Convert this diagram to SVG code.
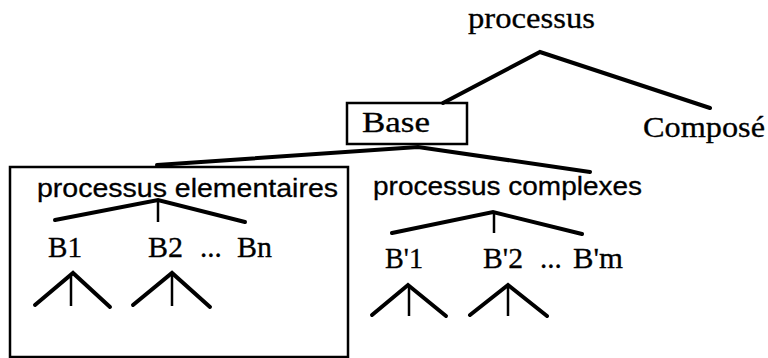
<svg xmlns="http://www.w3.org/2000/svg" width="768" height="358" viewBox="0 0 768 358">
<style>
.serif{font-family:"Liberation Serif","Times New Roman",serif;font-size:29px;fill:#000;stroke:#000;stroke-width:0.3}
.sans{font-family:"Liberation Sans",Arial,sans-serif;font-size:26px;fill:#000;stroke:#000;stroke-width:0.3}
.edge{stroke:#000;stroke-width:4;stroke-linecap:round;fill:none}
.stem{stroke:#000;stroke-width:2.5;fill:none}
.box{stroke:#000;stroke-width:2.5;fill:none}
</style>
<rect width="768" height="358" fill="#fff"/>
<g id="connectors">
<polyline class="edge" points="443,103 540,52 710,108"/>
<polyline class="edge" points="157,165 418,147 590,172"/>
<polyline class="edge" points="55,220 158,200 245,222"/>
<line class="stem" x1="158" y1="200" x2="158" y2="222"/>
<polyline class="edge" points="392,233 493,212 582,234"/>
<line class="stem" x1="494" y1="213" x2="494" y2="233"/>
<polyline class="edge" points="35,305 73,273 110,307"/>
<line class="stem" x1="71" y1="275" x2="71" y2="306"/>
<polyline class="edge" points="133,305 172,273 210,307"/>
<line class="stem" x1="172" y1="275" x2="172" y2="306"/>
<polyline class="edge" points="372,315 408,285 446,316"/>
<line class="stem" x1="409" y1="287" x2="409" y2="316"/>
<polyline class="edge" points="470,315 508,285 547,316"/>
<line class="stem" x1="508" y1="287" x2="508" y2="316"/>
</g>
<g id="node-processus"><text class="serif" x="468" y="28" textLength="127" lengthAdjust="spacingAndGlyphs">processus</text></g>
<g id="node-base"><rect class="box" x="347" y="103" width="120" height="41"/><text class="serif" x="362" y="132" textLength="68" lengthAdjust="spacingAndGlyphs">Base</text></g>
<g id="node-compose"><text class="serif" x="643" y="137" textLength="122" lengthAdjust="spacingAndGlyphs">Composé</text></g>
<g id="node-elementaires"><rect class="box" x="10" y="167" width="338" height="190"/><text class="sans" x="37" y="197" textLength="301" lengthAdjust="spacingAndGlyphs">processus  elementaires</text></g>
<g id="node-complexes"><text class="sans" x="373" y="195" textLength="269" lengthAdjust="spacingAndGlyphs">processus complexes</text></g>
<g id="node-b1"><text class="serif" x="48" y="257" textLength="34" lengthAdjust="spacingAndGlyphs">B1</text></g>
<g id="node-b2"><text class="serif" x="148" y="257" textLength="35" lengthAdjust="spacingAndGlyphs">B2</text><text class="serif" x="200" y="257">...</text></g>
<g id="node-bn"><text class="serif" x="237" y="257" textLength="35" lengthAdjust="spacingAndGlyphs">Bn</text></g>
<g id="node-bp1"><text class="serif" x="385" y="268" textLength="38" lengthAdjust="spacingAndGlyphs">B'1</text></g>
<g id="node-bp2"><text class="serif" x="483" y="268" textLength="40" lengthAdjust="spacingAndGlyphs">B'2</text><text class="serif" x="540" y="268">...</text></g>
<g id="node-bpm"><text class="serif" x="573" y="268" textLength="50" lengthAdjust="spacingAndGlyphs">B'm</text></g>
</svg>
